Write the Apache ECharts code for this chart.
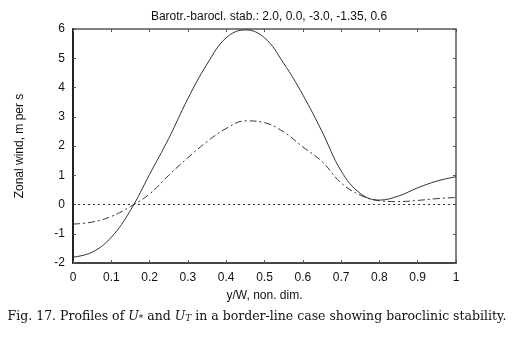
<!DOCTYPE html>
<html>
<head>
  <meta charset="utf-8">
  <title>Fig. 17</title>
  <style>
    html, body { margin: 0; padding: 0; background: #fff; }
    #chart { width: 514px; height: 337px; }
  </style>
</head>
<body>
  <div id="chart"></div>
  <script src="https://cdn.jsdelivr.net/npm/echarts@6/dist/echarts.min.js"></script>
  <script>
  // positions along the channel, y/W
  const yW = [0, 0.05, 0.1, 0.15, 0.2, 0.25, 0.3, 0.35, 0.4, 0.45, 0.5,
              0.55, 0.6, 0.65, 0.7, 0.75, 0.8, 0.85, 0.9, 0.95, 1];
  // U* profile (solid)
  const uStar = [-1.8, -1.63, -1.12, -0.2, 1.03, 2.26, 3.62, 4.8, 5.7, 5.97, 5.7,
                 4.83, 3.75, 2.5, 1.15, 0.38, 0.15, 0.29, 0.57, 0.8, 0.95];
  // U_T profile (dash-dot)
  const uT = [-0.67, -0.6, -0.41, -0.07, 0.36, 1.0, 1.6, 2.15, 2.6, 2.86, 2.8,
              2.48, 1.97, 1.47, 0.74, 0.32, 0.13, 0.1, 0.14, 0.2, 0.24];
  const xTicks = ['0', '0.1', '0.2', '0.3', '0.4', '0.5', '0.6', '0.7', '0.8', '0.9', '1'];

  const pairs = (ys) => yW.map((x, i) => [x, ys[i]]);
  const font = '"Liberation Sans", Arial, sans-serif';
  const serif = '"DejaVu Serif", serif';

  const chart = echarts.init(document.getElementById('chart'), null, { renderer: 'canvas' });

  chart.setOption({
    animation: false,
    backgroundColor: '#fff',
    title: {
      text: 'Barotr.-barocl. stab.: 2.0, 0.0, -3.0, -1.35, 0.6',
      left: 264, top: 6, textAlign: 'center',
      textStyle: { fontFamily: font, fontSize: 12, fontWeight: 'normal', color: '#111' }
    },
    grid: {
      left: 73, right: 58, top: 29, bottom: 74,
      show: true, borderColor: '#555', borderWidth: 1.5
    },
    xAxis: [{
      type: 'value', min: 0, max: 1, interval: 0.1,
      name: 'y/W, non. dim.', nameLocation: 'middle', nameGap: 27,
      nameTextStyle: { fontFamily: font, fontSize: 12, color: '#111' },
      axisLine: { show: true, onZero: false, lineStyle: { color: '#333', width: 1.5 } },
      axisTick: { inside: true, length: 3, lineStyle: { color: '#555' } },
      axisLabel: {
        fontFamily: font, fontSize: 12, color: '#111', margin: 9,
        formatter: (v) => xTicks[Math.round(v * 10)]
      },
      splitLine: { show: false }
    }, {
      type: 'value', min: 0, max: 1, interval: 0.1, position: 'top',
      axisLine: { show: false, onZero: false },
      axisTick: { inside: true, length: 3, lineStyle: { color: '#555' } },
      axisLabel: { show: false }, splitLine: { show: false }
    }],
    yAxis: [{
      type: 'value', min: -2, max: 6, interval: 1,
      name: 'Zonal wind, m per s', nameLocation: 'middle', nameGap: 47,
      nameTextStyle: { fontFamily: font, fontSize: 12, color: '#111' },
      axisLine: { show: true, onZero: false, lineStyle: { color: '#222', width: 2 } },
      axisTick: { inside: true, length: 3, lineStyle: { color: '#555' } },
      axisLabel: { fontFamily: font, fontSize: 12, color: '#111', margin: 8 },
      splitLine: { show: false }
    }, {
      type: 'value', min: -2, max: 6, interval: 1, position: 'right',
      axisLine: { show: false, onZero: false },
      axisTick: { inside: true, length: 3, lineStyle: { color: '#555' } },
      axisLabel: { show: false }, splitLine: { show: false }
    }],
    series: [{
      name: 'U*', type: 'line', data: pairs(uStar), smooth: 0.4,
      symbol: 'none', lineStyle: { color: '#333', width: 1 },
      markLine: {
        silent: true, symbol: 'none', label: { show: false },
        lineStyle: { color: '#333', width: 1, type: [2, 3] },
        data: [{ yAxis: 0 }]
      }
    }, {
      name: 'UT', type: 'line', data: pairs(uT), smooth: 0.4,
      symbol: 'none', lineStyle: { color: '#333', width: 1, type: [7, 3, 2, 3] }
    }],
    graphic: [{
      type: 'text', left: 'center', top: 310,
      style: {
        text: 'Fig. 17. Profiles of {i|U}{s|*} and {i|U}{s|T} in a border-line case showing baroclinic stability.',
        fontFamily: serif, fontSize: 12.5, fill: '#111',
        rich: {
          i: { fontFamily: serif, fontStyle: 'italic', fontSize: 12.5, fill: '#111' },
          s: { fontFamily: serif, fontStyle: 'italic', fontSize: 9, fill: '#111', padding: [5, 0, 0, 0] }
        }
      }
    }]
  });
  </script>
</body>
</html>
